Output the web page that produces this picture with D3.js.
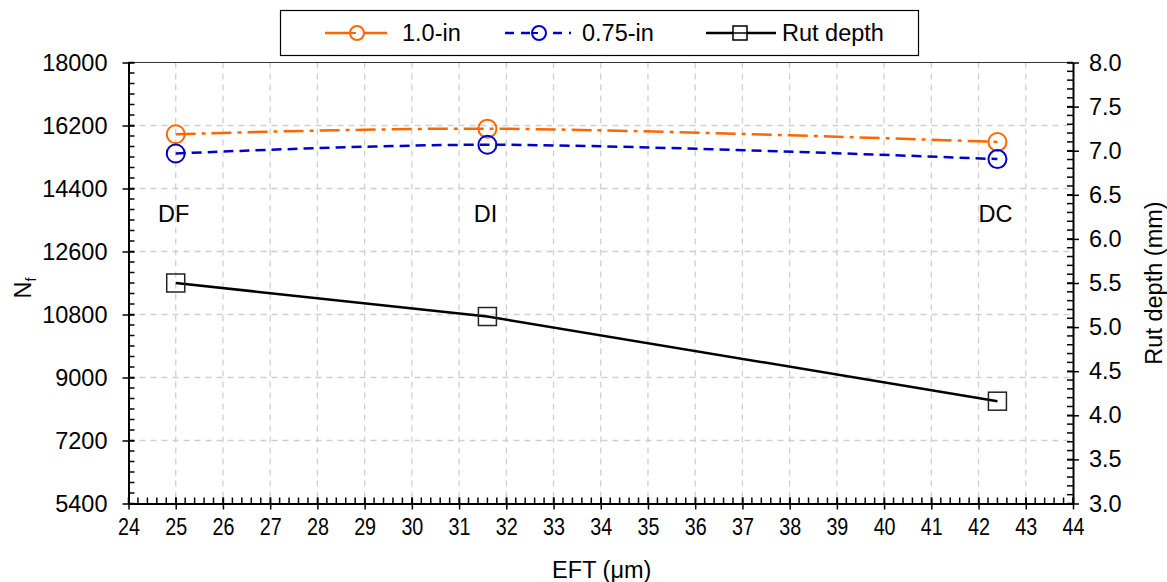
<!DOCTYPE html>
<html>
<head>
<meta charset="utf-8">
<script src="https://cdn.jsdelivr.net/npm/d3@7"></script>
<style>
  body { margin: 0; background: #fff; }
  svg { display: block; font-family: "Liberation Sans", Arial, sans-serif; }
</style>
</head>
<body>
<svg id="chart" width="1167" height="582"></svg>
<script>
// ---- data ----
const mixes = ["DF", "DI", "DC"];
const eft = [25, 31.6, 42.4];
const nf10 = [15950, 16110, 15730];
const nf075 = [15400, 15650, 15240];
const rutDepth = [5.5, 5.12, 4.16];
const xTicks = d3.range(24, 45, 1);
const yLeftTicks = [5400, 7200, 9000, 10800, 12600, 14400, 16200, 18000];
const yRightTicks = [3.0, 3.5, 4.0, 4.5, 5.0, 5.5, 6.0, 6.5, 7.0, 7.5, 8.0];
const seriesNames = ["1.0-in", "0.75-in", "Rut depth"];

// ---- layout ----
const svg = d3.select("#chart");
const L = 128.5, R = 1073, T = 62.5, B = 503.5;
const x = d3.scaleLinear().domain([24, 44]).range([L, R]);
const yL = d3.scaleLinear().domain([5400, 18000]).range([B, T]);
const yR = d3.scaleLinear().domain([3, 8]).range([B, T]);
const orange = "#ff6600", blue = "#0000cc";
const fontSize = 23.5;

// grid
const grid = svg.append("g").attr("stroke", "#cfcfcf").attr("stroke-width", 1.3).attr("stroke-dasharray", "6,5");
xTicks.filter(d => d > 24 && d < 44).forEach(d => {
  grid.append("line").attr("x1", x(d)).attr("x2", x(d)).attr("y1", T).attr("y2", B);
});
yLeftTicks.filter(d => d > 5400 && d < 18000).forEach(d => {
  grid.append("line").attr("x1", L).attr("x2", R).attr("y1", yL(d)).attr("y2", yL(d));
});

// top border
svg.append("line").attr("x1", L).attr("x2", R).attr("y1", T).attr("y2", T).attr("stroke", "#333").attr("stroke-width", 1.2);

function styleAxis(g) {
  g.selectAll("path").attr("stroke", "#000").attr("stroke-width", 2);
  g.selectAll("line").attr("stroke", "#000").attr("stroke-width", 1.5);
  g.selectAll("text").attr("font-size", fontSize).attr("fill", "#000").attr("font-family", "Liberation Sans, Arial, sans-serif");
}
// minor ticks
const minor = svg.append("g").attr("stroke", "#000").attr("stroke-width", 1.5);
d3.range(24, 44.0001, 0.2).forEach(v => {
  minor.append("line").attr("x1", x(v)).attr("x2", x(v)).attr("y1", B).attr("y2", B - 6);
});
d3.range(5400, 18001, 300).forEach(v => {
  minor.append("line").attr("x1", L).attr("x2", L + 6).attr("y1", yL(v)).attr("y2", yL(v));
});
d3.range(3, 8.0001, 0.1).forEach(v => {
  minor.append("line").attr("x1", R).attr("x2", R - 6).attr("y1", yR(v)).attr("y2", yR(v));
});

const gx = svg.append("g").attr("transform", `translate(0,${B})`)
  .call(d3.axisBottom(x).tickValues(xTicks).tickFormat(d3.format("d")).tickSizeInner(6).tickSizeOuter(0).tickPadding(9));
gx.selectAll(".tick line").attr("y1", -6);
styleAxis(gx);
gx.selectAll(".tick text").attr("transform", "scale(0.84,1)");

const gl = svg.append("g").attr("transform", `translate(${L},0)`)
  .call(d3.axisLeft(yL).tickValues(yLeftTicks).tickFormat(d3.format("d")).tickSizeInner(6).tickSizeOuter(0).tickPadding(15));
gl.selectAll(".tick line").attr("x1", 6);
styleAxis(gl);

const gr = svg.append("g").attr("transform", `translate(${R},0)`)
  .call(d3.axisRight(yR).tickValues(yRightTicks).tickFormat(d3.format(".1f")).tickSizeInner(6).tickSizeOuter(0).tickPadding(10));
gr.selectAll(".tick line").attr("x1", -6);
styleAxis(gr);

// axis titles
svg.append("text").attr("x", (L + R) / 2 + 1).attr("y", 578).attr("text-anchor", "middle")
  .attr("font-size", fontSize).text("EFT (μm)");
const nl = svg.append("text").attr("transform", "translate(31,288) rotate(-90)").attr("text-anchor", "middle").attr("font-size", fontSize);
nl.append("tspan").text("N");
nl.append("tspan").attr("font-size", 14).attr("dy", 5).text("f");
svg.append("text").attr("transform", "translate(1162,283) rotate(-90)").attr("text-anchor", "middle")
  .attr("font-size", fontSize).text("Rut depth (mm)");

// series
const pts = (ys, scale) => eft.map((e, i) => [x(e), scale(ys[i])]);
const curve = d3.line().curve(d3.curveCatmullRom.alpha(0.5));
const straight = d3.line();

svg.append("path").attr("d", curve(pts(nf10, yL))).attr("fill", "none").attr("stroke", orange)
  .attr("stroke-width", 2.5).attr("stroke-dasharray", "20,6,4,6");
svg.append("path").attr("d", curve(pts(nf075, yL))).attr("fill", "none").attr("stroke", blue)
  .attr("stroke-width", 2.5).attr("stroke-dasharray", "10,6");
svg.append("path").attr("d", straight(pts(rutDepth, yR))).attr("fill", "none").attr("stroke", "#000")
  .attr("stroke-width", 2.5);

svg.append("g").selectAll("circle").data(pts(nf10, yL)).join("circle")
  .attr("cx", d => d[0]).attr("cy", d => d[1]).attr("r", 9)
  .attr("fill", "none").attr("stroke", orange).attr("stroke-width", 2);
svg.append("g").selectAll("circle").data(pts(nf075, yL)).join("circle")
  .attr("cx", d => d[0]).attr("cy", d => d[1]).attr("r", 9)
  .attr("fill", "none").attr("stroke", blue).attr("stroke-width", 2);
svg.append("g").selectAll("rect").data(pts(rutDepth, yR)).join("rect")
  .attr("x", d => d[0] - 9).attr("y", d => d[1] - 9).attr("width", 18).attr("height", 18)
  .attr("fill", "none").attr("stroke", "#222").attr("stroke-width", 1.5);

// mix labels
svg.append("g").selectAll("text").data(mixes).join("text")
  .attr("x", (d, i) => x(eft[i]) - 2).attr("y", 222).attr("text-anchor", "middle")
  .attr("font-size", fontSize).text(d => d);

// legend
const lg = svg.append("g");
lg.append("rect").attr("x", 280.5).attr("y", 10.5).attr("width", 638).attr("height", 45)
  .attr("fill", "#fff").attr("stroke", "#000").attr("stroke-width", 1.2);
const items = [
  { name: seriesNames[0], x0: 325, x1: 387, mx: 357, color: orange, dash: null, mark: "circle", tx: 402 },
  { name: seriesNames[1], x0: 505, x1: 571, mx: 539, color: blue, dash: "9,7", mark: "circle", tx: 582 },
  { name: seriesNames[2], x0: 706, x1: 776, mx: 740, color: "#000", dash: null, mark: "square", tx: 782 }
];
items.forEach(it => {
  const cy = 33;
  lg.append("line").attr("x1", it.x0).attr("x2", it.x1).attr("y1", cy).attr("y2", cy)
    .attr("stroke", it.color).attr("stroke-width", 2.5).attr("stroke-dasharray", it.dash);
  const cx = it.mx;
  if (it.mark === "circle") {
    lg.append("circle").attr("cx", cx).attr("cy", cy).attr("r", 7).attr("fill", "#fff")
      .attr("stroke", it.color).attr("stroke-width", 2);
    lg.append("line").attr("x1", cx - 7).attr("x2", cx - 1).attr("y1", cy).attr("y2", cy).attr("stroke", it.color).attr("stroke-width", 2);
  } else {
    lg.append("rect").attr("x", cx - 7).attr("y", cy - 7).attr("width", 14).attr("height", 14)
      .attr("fill", "#fff").attr("stroke", "#000").attr("stroke-width", 1.5);
    lg.append("line").attr("x1", cx - 7).attr("x2", cx + 7).attr("y1", cy).attr("y2", cy).attr("stroke", "#000").attr("stroke-width", 1.5);
  }
  lg.append("text").attr("x", it.tx).attr("y", cy + 8).attr("font-size", fontSize).text(it.name);
});
</script>
</body>
</html>
